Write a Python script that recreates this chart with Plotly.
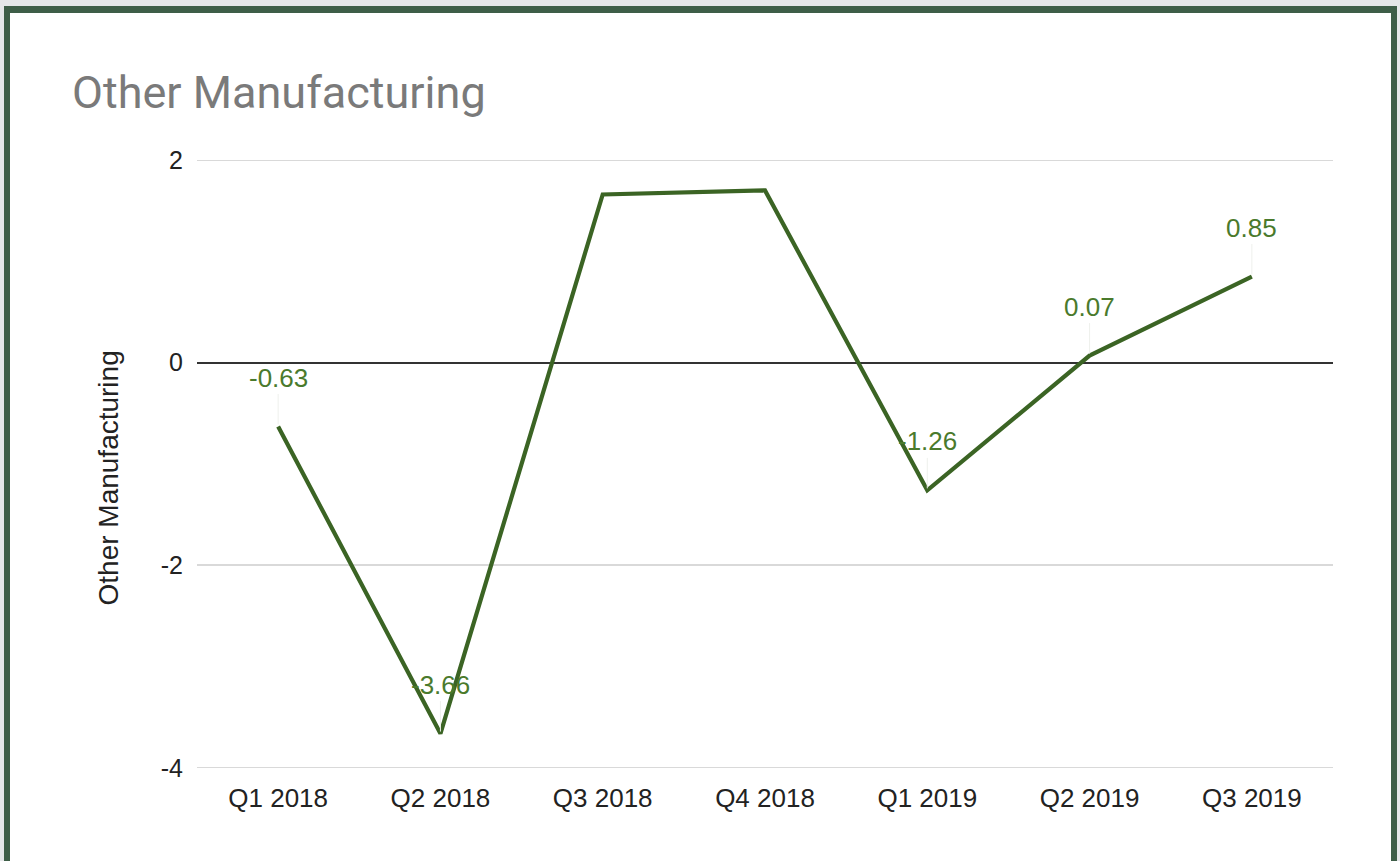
import plotly.graph_objects as go

# Quarterly figures
quarters = ["Q1 2018", "Q2 2018", "Q3 2018", "Q4 2018", "Q1 2019", "Q2 2019", "Q3 2019"]
values = [-0.63, -3.66, 1.66, 1.70, -1.26, 0.07, 0.85]
labelled = [True, True, False, False, True, True, True]

y_ticks = [-4, -2, 0, 2]

W, H = 1400, 861
ML, MR, MT, MB = 197, 67, 160, 93
PW, PH = W - ML - MR, H - MT - MB

LINE = "#3b6424"
LABEL = "#4a7a2c"
FRAME = "#3e5e48"
OUTER = "#e5e7e9"
GRID = "#d9d9d9"


def px_x(px):
    return (px - ML) / PW


def px_y(py):
    return (H - MB - py) / PH


fig = go.Figure()
fig.add_trace(go.Scatter(
    x=quarters, y=values, mode="lines",
    line=dict(color=LINE, width=4.2), hoverinfo="x+y", showlegend=False,
))

# Gridlines at the ends of the value range
for t in (y_ticks[0], y_ticks[-1]):
    fig.add_shape(
        type="line", xref="paper", yref="y", x0=0, x1=1, y0=t, y1=t,
        line=dict(color=GRID, width=2), layer="below",
    )

# Value labels floating above the points with a faint leader line
for q, v, show in zip(quarters, values, labelled):
    if not show:
        continue
    fig.add_annotation(
        x=q, y=v, xref="x", yref="y", text=f"{v:.2f}",
        showarrow=True, arrowhead=0, arrowwidth=1, arrowcolor="#eef0ec",
        ax=0, ay=-49, standoff=2,
        font=dict(family="Liberation Sans, Arial, sans-serif", size=26, color=LABEL),
    )

# Vertical axis title
fig.add_annotation(
    x=px_x(90), y=px_y(478), xref="paper", yref="paper",
    text="Other Manufacturing", textangle=-90, showarrow=False,
    font=dict(family="Liberation Sans, Arial, sans-serif", size=28, color="#222222"),
)

# Card frame: grey surround and dark green border
rects = [
    (0, 0, W, 6, OUTER),
    (0, 0, 4, H, OUTER),
    (1397, 0, W, H, OUTER),
    (4, 6, 1397, 13, FRAME),
    (4, 6, 10, H, FRAME),
    (1391, 6, 1397, H, FRAME),
]
for x0, y0, x1, y1, c in rects:
    fig.add_shape(
        type="rect", xref="paper", yref="paper",
        x0=px_x(x0), x1=px_x(x1), y0=px_y(y1), y1=px_y(y0),
        fillcolor=c, line=dict(width=0), layer="above",
    )

fig.update_layout(
    width=W, height=H,
    margin=dict(l=ML, r=MR, t=MT, b=MB, pad=0),
    paper_bgcolor="white", plot_bgcolor="white",
    title=dict(
        text="Other Manufacturing", x=72 / W, xanchor="left",
        y=1 - 92 / H, yanchor="middle", xref="container", yref="container",
        font=dict(family="Roboto, Arial, sans-serif", size=45, color="#7a7a7a"),
    ),
    font=dict(family="Liberation Sans, Arial, sans-serif", color="#222222"),
)
fig.update_xaxes(
    type="category", range=[-0.5, len(quarters) - 0.5],
    showgrid=False, zeroline=False, showline=False,
    ticks="outside", ticklen=7, tickcolor="white",
    tickfont=dict(size=26, color="#222222"),
)
fig.update_yaxes(
    range=[-4, 2], tickvals=y_ticks, ticktext=[str(t) for t in y_ticks],
    showgrid=True, gridcolor=GRID, gridwidth=2,
    zeroline=True, zerolinecolor="#333333", zerolinewidth=2,
    showline=False, ticks="outside", ticklen=8, tickcolor="white",
    tickfont=dict(size=25, color="#222222"),
)

fig.write_html("out.html")
